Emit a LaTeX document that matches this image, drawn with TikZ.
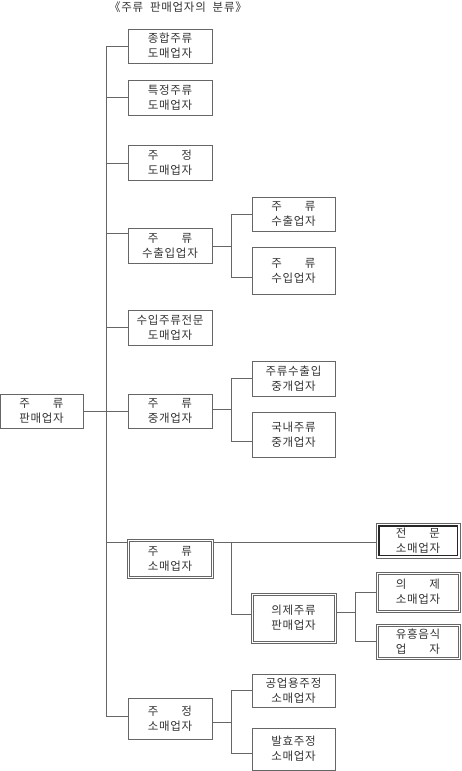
\documentclass[tikz,border=0pt]{standalone}
\usepackage{fontspec}
\setmainfont{Noto Sans CJK KR}[LetterSpace=6]
\begin{document}
\begin{tikzpicture}[x=1pt,y=-1pt,
  box/.style={draw=black!60, line width=0.8pt, fill=white, inner sep=0pt, align=center,
    text=black!80, font=\fontsize{11.5}{15}\selectfont},
  ln/.style={draw=black!60, line width=0.8pt},
  inner/.style={draw=black!60, line width=0.8pt},
  thickinner/.style={draw=black!85, line width=1.8pt}]
\useasboundingbox (0,0) rectangle (461,771);
\node[text=black!80, font=\fontsize{11.5}{14}\selectfont] (title) at (178,7) {《주류\hspace{0.6em}판매업자의\hspace{0.6em}분류》};
% root
\node[box, minimum width=83pt, minimum height=34pt] (root) at (41.5,411) {주\hspace{2em}류\\판매업자};
% column 1
\node[box, minimum width=84pt, minimum height=34pt] (a1) at (170,46) {종합주류\\도매업자};
\node[box, minimum width=84pt, minimum height=35pt] (a2) at (170,97.5) {특정주류\\도매업자};
\node[box, minimum width=84pt, minimum height=35pt] (a3) at (170,163) {주\hspace{2em}정\\도매업자};
\node[box, minimum width=84pt, minimum height=35pt] (a4) at (170,246) {주\hspace{2em}류\\수출입업자};
\node[box, minimum width=84pt, minimum height=35pt] (a5) at (170,327.5) {수입주류전문\\도매업자};
\node[box, minimum width=84pt, minimum height=34pt] (a6) at (170,411) {주\hspace{2em}류\\중개업자};
\node[box, minimum width=86pt, minimum height=39pt] (a7) at (170,558.5) {주\hspace{2em}류\\소매업자};
\node[box, minimum width=84pt, minimum height=41pt] (a8) at (170,718.5) {주\hspace{2em}정\\소매업자};
% column 2
\node[box, minimum width=83pt, minimum height=34pt] (b1) at (293.5,214) {주\hspace{2em}류\\수출업자};
\node[box, minimum width=83pt, minimum height=47pt] (b2) at (293.5,270.5) {주\hspace{2em}류\\수입업자};
\node[box, minimum width=83pt, minimum height=35pt] (b3) at (293.5,378.5) {주류수출입\\중개업자};
\node[box, minimum width=83pt, minimum height=45pt] (b4) at (293.5,434.5) {국내주류\\중개업자};
\node[box, minimum width=85pt, minimum height=50pt] (b5) at (293.5,618) {의제주류\\판매업자};
\node[box, minimum width=83pt, minimum height=33pt] (b6) at (293.5,690.5) {공업용주정\\소매업자};
\node[box, minimum width=83pt, minimum height=42pt] (b7) at (293.5,749) {발효주정\\소매업자};
% column 3
\node[box, minimum width=84pt, minimum height=35pt] (c1) at (418,540.5) {전\hspace{2em}문\\소매업자};
\node[box, minimum width=84pt, minimum height=40pt] (c2) at (418,592) {의\hspace{2em}제\\소매업자};
\node[box, minimum width=84pt, minimum height=35pt] (c3) at (418,641.5) {유흥음식\\업\hspace{2em}자};
% inner borders of the double boxes
\draw[inner] ([shift={(2.5pt,2.5pt)}]a7.south west) rectangle ([shift={(-2.5pt,-2.5pt)}]a7.north east);
\draw[inner] ([shift={(2.5pt,2.5pt)}]b5.south west) rectangle ([shift={(-2.5pt,-2.5pt)}]b5.north east);
\draw[inner] ([shift={(2.5pt,2.5pt)}]c2.south west) rectangle ([shift={(-2.5pt,-2.5pt)}]c2.north east);
\draw[inner] ([shift={(2.5pt,2.5pt)}]c3.south west) rectangle ([shift={(-2.5pt,-2.5pt)}]c3.north east);
\draw[thickinner] ([shift={(3pt,3pt)}]c1.south west) rectangle ([shift={(-3pt,-3pt)}]c1.north east);
% trunk coordinates
\coordinate (T) at (106,0);
\coordinate (S) at (231.7,0);
\coordinate (R) at (355.7,0);
% main trunk
\draw[ln] (a1.west -| T) -- ([yshift=2.5pt]a8.west -| T);
\draw[ln] (root.east) -- (a6.west);
\draw[ln] (a1.west) -- (a1.west -| T);
\draw[ln] (a2.west) -- (a2.west -| T);
\draw[ln] (a3.west) -- (a3.west -| T);
\draw[ln] ([yshift=13pt]a4.west) -- ([yshift=13pt]a4.west -| T);
\draw[ln] (a5.west) -- (a5.west -| T);
\draw[ln] ([yshift=16pt]a7.west) -- ([yshift=16pt]a7.west -| T);
\draw[ln] ([yshift=2.5pt]a8.west) -- ([yshift=2.5pt]a8.west -| T);
% export/import
\draw[ln] (a4.east) -- (a4.east -| S);
\draw[ln] (b1.west) -| ([yshift=-7pt]b2.west -| S) -- ([yshift=-7pt]b2.west);
% brokers
\draw[ln] ([yshift=2pt]a6.east) -- ([yshift=2pt]a6.east -| S);
\draw[ln] (b3.west) -| ([yshift=-7pt]b4.west -| S) -- ([yshift=-7pt]b4.west);
% retail
\draw[ln] ([yshift=16.5pt]a7.east) -- ([yshift=16.5pt]a7.east -| c1.west);
\draw[ln] ([yshift=16.5pt]a7.east -| S) |- ([yshift=4pt]b5.west);
\draw[ln] ([yshift=6pt]b5.east) -- ([yshift=6pt]b5.east -| R);
\draw[ln] (c2.west) -| (c3.west -| R) -- (c3.west);
% alcohol retail
\draw[ln] ([yshift=-4pt]a8.east) -- ([yshift=-4pt]a8.east -| S);
\draw[ln] (b6.west) -| ([yshift=-4pt]b7.west -| S) -- ([yshift=-4pt]b7.west);
\end{tikzpicture}
\end{document}
